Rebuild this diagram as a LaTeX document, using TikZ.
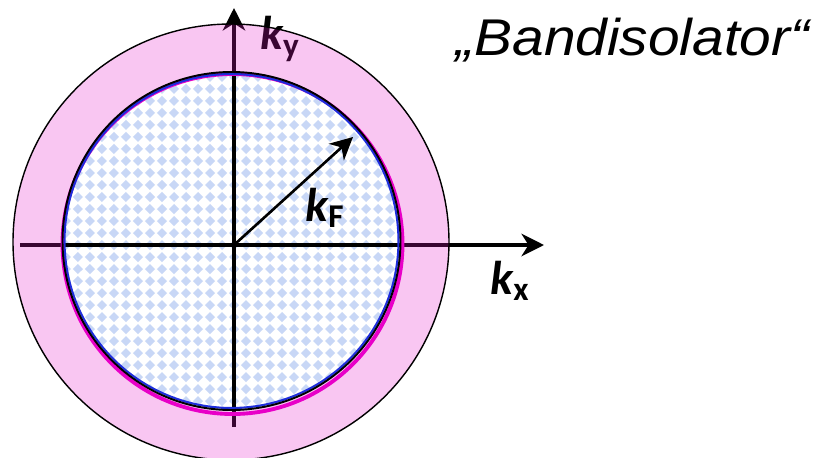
\documentclass[tikz,border=0pt]{standalone}
\usepackage{fontspec}
\setmainfont{Liberation Sans}
\newfontfamily\labelfont{Carlito}
\usetikzlibrary{arrows.meta}

\definecolor{ringpink}{RGB}{231,27,203}
\definecolor{fermimag}{RGB}{232,0,200}
\definecolor{fermiblue}{RGB}{30,45,220}
\definecolor{dotblue}{RGB}{200,215,246}

\tikzset{
    axis/.style={black, line width=2pt, -{Stealth[length=0.45cm, width=0.45cm, inset=0.14cm]}},
    klabel/.style={font=\labelfont\fontsize{27}{27}\selectfont\bfseries\itshape, inner sep=0pt},
}

\begin{document}
\begin{tikzpicture}
            \def\ringr{4.36}   % outer edge of the ring
            \def\fermir{3.38}  % Fermi circle
            \def\dotstep{0.24}

            \useasboundingbox (-4.68,-4.24) rectangle (11.74,4.90);

            % Filled states: light blue diamonds inside the Fermi circle
            \begin{scope}
                \clip (-0.05,0.08) circle[radius=\fermir];
                \fill[white] (-0.05,0.08) circle[radius=\fermir];
                \foreach \y in {-3.36,-3.12,...,3.5}{
                    \foreach \x in {-3.36,-3.12,...,3.5}{
                        \fill[dotblue] (\x,\y+0.1) -- (\x+0.1,\y) -- (\x,\y-0.1) -- (\x-0.1,\y) -- cycle;
                    }
                }
            \end{scope}

            % Axes and Fermi wave vector
            \coordinate (origin) at (0,0);
            \coordinate (xend) at (6.2,0);
            \coordinate (yend) at (0,4.74);
            \coordinate (kfend) at (2.38,2.16);
            \draw[axis] (-4.28,0) -- (xend);
            \draw[axis] (0,-3.64) -- (yend);
            \draw[axis, line width=1.5pt] (origin) -- (kfend);

            \node[klabel] (ky) at (0.92,4.12) {k\textsubscript{\upshape y}};
            \node[klabel] (kx) at (5.52,-0.72) {k\textsubscript{\upshape x}};
            \node[klabel] (kf) at (1.82,0.74) {k\textsubscript{\upshape F}};

            % Translucent pink ring between the circles
            \fill[ringpink, fill opacity=0.25, even odd rule]
                (-0.06,0.06) circle[radius=\ringr]
                (-0.05,0.08) circle[radius=\fermir];

            % Circle outlines
            \draw[fermimag, line width=2.2pt] (-0.03,0.02) circle[radius=3.40];
            \draw[fermiblue, line width=1.2pt] (-0.05,0.08) circle[radius=3.34];
            \draw[black, line width=1.1pt] (-0.05,0.08) circle[radius=\fermir];
            \draw[black, line width=0.8pt] (-0.06,0.06) circle[radius=\ringr];

            \node[anchor=base, inner sep=0pt, font=\itshape\fontsize{29.4}{30}\selectfont]
                (title) at (7.97,3.80) {\scalebox{1.1}[1]{„Bandisolator“}};
        \end{tikzpicture}
\end{document}
